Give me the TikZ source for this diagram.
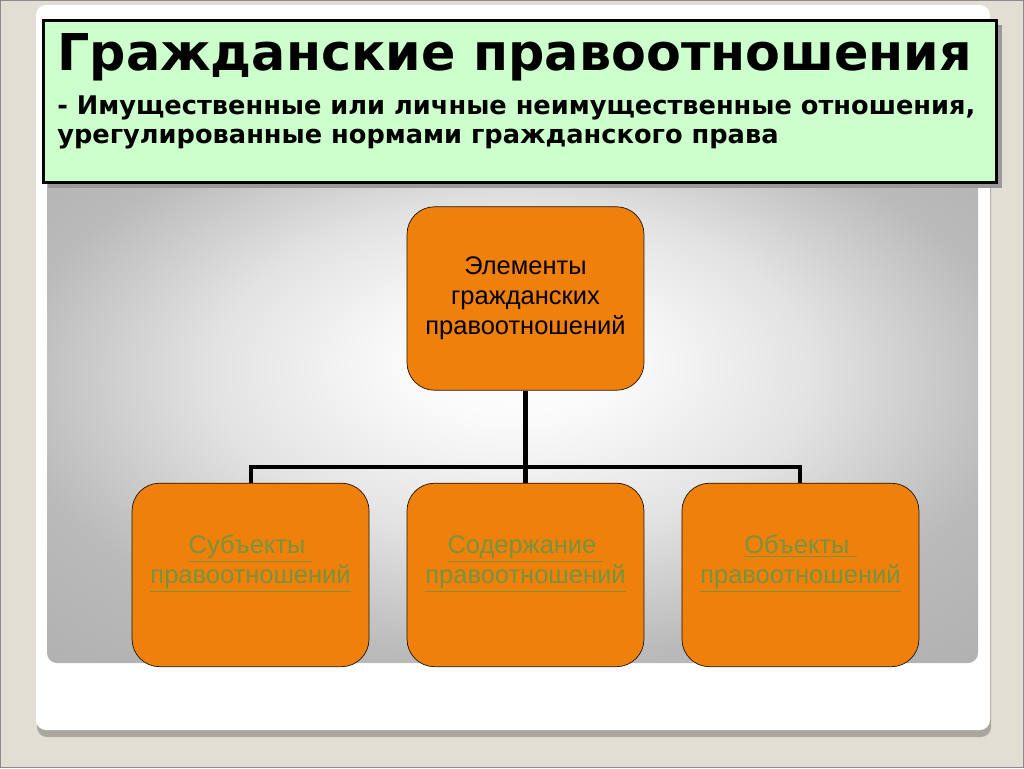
\documentclass[tikz,border=0pt]{standalone}
\usepackage{fontspec}
\setmainfont{Liberation Sans}
\newfontfamily\headfont{DejaVu Sans}
\usepackage{tikz}
\usetikzlibrary{positioning}
\definecolor{slidebg}{HTML}{E3DED4}
\definecolor{headgreen}{HTML}{CCFFCC}
\definecolor{boxorange}{HTML}{F0800C}
\definecolor{linkgreen}{HTML}{77933C}
\pgfdeclareradialshading{slideglow}{\pgfpoint{0bp}{5bp}}{%
  color(0bp)=(white); color(6bp)=(white!98!black);
  color(16bp)=(white!89!black);
  color(27bp)=(white!73!black); color(50bp)=(white!64!black)}

\begin{document}
\begin{tikzpicture}[
    x=0.02cm, y=-0.02cm,
    node distance=5.53cm,
    font=\fontsize{14.5}{17}\selectfont,
    element/.style={
		rectangle,
		rounded corners=0.55cm,
		draw=black!85!brown,
		fill=boxorange,
		text centered,
		minimum width=4.74cm,
		minimum height=3.67cm,
		inner sep=0pt
	},
	header/.style={
		rectangle,
		draw=black,
		line width=1.7pt,
		fill=headgreen,
		minimum width=19.08cm,
		minimum height=3.26cm
	},
	heading/.style={
		anchor=base west,
		inner sep=0pt,
		align=left
	},
	link/.style={
		text=linkgreen
	},
	conn/.style={
		draw=black,
		line width=2.3pt
	}
  ]
  \useasboundingbox (0,0) rectangle (1024,768);

    % slide background
  \fill [slidebg] (0,0) rectangle (1024,768);
  \draw [black!45] (0.5,0.5) rectangle (1023.5,767.5);
  \fill [slidebg!75!black, rounded corners=0.2cm] (37,12) rectangle (991,737);
  \fill [white, rounded corners=0.2cm] (36,5) rectangle (990,730);
  \shade [shading=slideglow, rounded corners=0.2cm] (47,150) rectangle (978,663);

    % title block
  \fill [black!40] (48,25) rectangle (1002,188);
  \node [header] (header) at (520,101.5) {};
  \node [heading, font=\headfont\bfseries\fontsize{28.9}{30}\selectfont] (title) at (57,70)
    {Гражданские правоотношения};
  \node [heading, font=\headfont\bfseries\fontsize{14.6}{16.4}\selectfont] (subtitle) at (57,143)
    {- Имущественные или личные неимущественные отношения,\\урегулированные нормами гражданского права};

    % We start by placing the blocks
  \node [element] (elements) at (525.5,298.5)
 {%
 \begin{tabular}{c}
  Элементы\\
  гражданских\\
  правоотношений
 \end{tabular}
 };

  \node [element, link, below of=elements] (content)
 {%
 \begin{tabular}{c}
  \underline{Содержание\ }\\
  \underline{правоотношений}\\[0.48cm]
 \end{tabular}
 };

  \node [element, link, below of=elements, xshift=-5.5cm] (subjects)
 {%
 \begin{tabular}{c}
  \underline{Субъекты\ }\\
  \underline{правоотношений}\\[0.48cm]
 \end{tabular}
 };

  \node [element, link, below of=elements, xshift=5.5cm] (objects)
 {%
 \begin{tabular}{c}
  \underline{Объекты\ }\\
  \underline{правоотношений}\\[0.48cm]
 \end{tabular}
 };

  \coordinate (bus) at (525.5,467);

  \draw [conn] (elements) -- (content);
  \draw [conn] (subjects) |- (bus) -| (objects);

\end{tikzpicture}
\end{document}
